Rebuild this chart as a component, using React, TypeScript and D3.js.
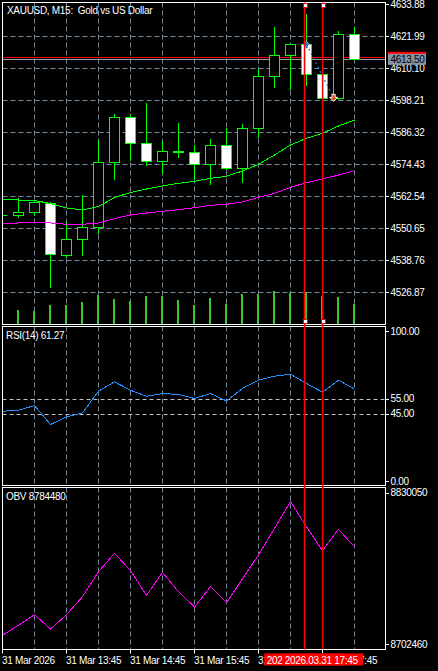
import React from "react";
import * as d3 from "d3";

// ---------- data ----------
const times = [
  "12:45", "13:00", "13:15", "13:30", "13:45", "14:00", "14:15", "14:30",
  "14:45", "15:00", "15:15", "15:30", "15:45", "16:00", "16:15", "16:30",
  "16:45", "17:00", "17:15", "17:30", "17:45", "18:00", "18:15",
];
const opens = [
  4555.4, 4555.37, 4556.48, 4560.05, 4540.51, 4546.45, 4550.91, 4575.06,
  4591.78, 4582.12, 4575.43, 4578.9, 4578.78, 4574.32, 4581.45, 4572.83,
  4587.69, 4607.02, 4614.82, 4618.91, 4607.76, 4598.77, 4622.62,
];
const highs = [
  4555.9, 4561.8, 4561.05, 4560.42, 4552.99, 4562.8, 4583.24, 4593.01,
  4593.01, 4596.98, 4582.86, 4589.55, 4581.38, 4583.61, 4587.69, 4589.18,
  4609.73, 4625.33, 4618.91, 4630.16, 4608.6, 4623.74, 4625.33,
];
const lows = [
  4555.0, 4554.63, 4555.37, 4528.84, 4539.76, 4540.51, 4548.9, 4568.75,
  4575.8, 4573.95, 4570.97, 4577.14, 4568.75, 4567.0, 4572.6, 4567.88,
  4584.57, 4603.15, 4602.41, 4603.78, 4598.5, 4598.5, 4613.5,
];
const closes = [
  4555.4, 4556.48, 4560.2, 4540.88, 4546.45, 4550.91, 4575.06, 4591.78,
  4582.12, 4575.43, 4579.15, 4579.2, 4574.32, 4581.45, 4572.83, 4587.69,
  4607.02, 4614.82, 4618.91, 4607.76, 4598.77, 4622.62, 4613.5,
];
const volumes = [
  1420, 1330, 1235, 1805, 1805, 2090, 2755, 2375, 2185, 2660, 2660, 2280,
  1805, 2470, 1930, 2850, 2850, 3135, 2975, 3040, 2660, 2565, 1930,
];
const maFast = [
  4561.31, 4561.05, 4560.87, 4559.75, 4558.08, 4557.34, 4558.64, 4561.98,
  4563.84, 4565.14, 4566.26, 4567.26, 4568.0, 4569.12, 4569.86, 4571.83,
  4574.32, 4577.77, 4581.49, 4583.98, 4585.84, 4588.55, 4590.78,
];
const maSlow = [
  4552.39, 4552.51, 4552.77, 4552.51, 4552.02, 4552.02, 4552.51, 4554.18,
  4555.48, 4556.22, 4556.86, 4557.45, 4558.19, 4559.09, 4559.46, 4560.31,
  4562.06, 4563.54, 4565.77, 4567.48, 4568.86, 4570.34, 4571.94,
];
const rsiValues = [
  46.5, 47.2, 50.3, 37.7, 42.7, 45.4, 59.9, 66.1, 60.5, 56.5, 58.3, 57.7,
  55.0, 58.3, 53.4, 61.7, 67.2, 69.9, 71.2, 65.0, 59.2, 67.2, 61.27,
];
const obvValues = [
  8710038, 8718454, 8727375, 8715340, 8727375, 8742524, 8763564, 8779049,
  8764405, 8743702, 8763059, 8746732, 8733855, 8750940, 8737474, 8757672,
  8777618, 8800089, 8822476, 8801436, 8781237, 8799247, 8784480,
];
const priceTicks = [
  4633.88, 4621.99, 4610.1, 4598.21, 4586.32, 4574.43, 4562.54, 4550.65,
  4538.76, 4526.87,
];
const rsiTicks = [100, 55, 45, 0];
const rsiLevels = [55, 45];
const obvTicks = [8830050, 8702460];
const timeLabelIdx = [0, 4, 8, 12, 16, 20];
const timeLabels = [
  "31 Mar 2026", "31 Mar 13:45", "31 Mar 14:45", "31 Mar 15:45",
  "31 Mar 16:45", "31 Mar 17:45",
];
const vlineIdx = [18.89, 20.02];
const vlineLabels = ["2026.03.31 17:30", "2026.03.31 17:45"];
const bidPrice = 4613.5;
const askPrice = 4614.08;
const dealIdx = [19, 20.7];
const dealPrices = [4618.9, 4599.2];
const dealTypes = ["buy", "sell"];

// ---------- layout ----------
const W = 438;
const H = 671;
const L = 2.5;
const R = 385.5;
const main = { top: 2.5, bottom: 324.5 };
const rsiP = { top: 326.5, bottom: 485.5 };
const obvP = { top: 487.5, bottom: 649.5 };
const FONT = "'Liberation Sans', Arial, sans-serif";
const LIME = "#00ff00";
const GRID = "#778899";

const cr = (v: number) => Math.round(v) + 0.5;

export default function App() {
  const x = d3.scaleLinear().domain([0, times.length - 1]).range([2, 354]);
  const y = d3.scaleLinear().domain([4526.87, 4633.88]).range([292, 4]);
  const vy = d3.scaleLinear().domain([0, d3.max(volumes) as number]).range([324, 291]);
  const ry = d3.scaleLinear().domain([0, 100]).range([481, 331]);
  const oy = d3.scaleLinear().domain([8702460, 8830050]).range([644.3, 492.7]);

  const lineFast = d3.line<number>().x((_, i) => x(i) + 0.5).y((d) => y(d));
  const lineRsi = d3.line<number>().x((_, i) => x(i) + 0.5).y((d) => ry(d));
  const lineObv = d3.line<number>().x((_, i) => x(i) + 0.5).y((d) => oy(d));

  const gridX = d3.range(2, times.length, 2).map((i) => cr(x(i)));

  const textStyle = { fontFamily: FONT, fontSize: 10, letterSpacing: -0.3, whiteSpace: "pre" } as const;

  const panelGrid = (top: number, bottom: number) =>
    gridX.map((gx) => (
      <line key={gx} x1={gx} x2={gx} y1={top} y2={bottom} stroke={GRID} strokeDasharray="5,3" />
    ));

  return (
    <>
      <style>{"body{margin:0;background:#000}"}</style>
      <svg width={W} height={H} style={{ display: "block", background: "#000" }}>
        <defs>
          <clipPath id="cMain"><rect x={3} y={3} width={382} height={321} /></clipPath>
          <clipPath id="cRsi"><rect x={3} y={327} width={382} height={158} /></clipPath>
          <clipPath id="cObv"><rect x={3} y={488} width={382} height={161} /></clipPath>
        </defs>

        {/* ---------- main panel ---------- */}
        <g clipPath="url(#cMain)">
          {panelGrid(main.top, main.bottom)}
          {priceTicks.slice(1).map((p) => (
            <line key={p} x1={L} x2={R} y1={cr(y(p))} y2={cr(y(p))} stroke={GRID} strokeDasharray="5,3" />
          ))}
          {/* volumes */}
          {volumes.map((v, i) => (
            <rect key={i} x={Math.round(x(i)) - 1} y={vy(v)} width={2} height={324 - vy(v)} fill="#32cd32" />
          ))}
          {/* bid / ask lines */}
          <line x1={L} x2={R} y1={cr(y(askPrice))} y2={cr(y(askPrice))} stroke="#ff0000" />
          <line x1={L} x2={R} y1={cr(y(bidPrice))} y2={cr(y(bidPrice))} stroke="#a0a0a0" />
          {/* candles */}
          {times.map((t, i) => {
            const cx = Math.round(x(i));
            const o = opens[i];
            const c = closes[i];
            const bull = c >= o;
            const yT = cr(y(Math.max(o, c)));
            const yB = cr(y(Math.min(o, c)));
            const hy = Math.round(y(highs[i]));
            const ly = Math.round(y(lows[i]));
            return (
              <g key={t}>
                <line x1={cx + 0.5} x2={cx + 0.5} y1={hy} y2={ly + 1} stroke={LIME} />
                {yB - yT < 1 ? (
                  <line x1={cx - 4.5} x2={cx + 5.5} y1={yT} y2={yT} stroke={LIME} />
                ) : (
                  <rect x={cx - 4.5} y={yT} width={10} height={yB - yT} fill={bull ? "#000" : "#fff"} stroke={LIME} />
                )}
              </g>
            );
          })}
          {/* moving averages */}
          <path d={lineFast(maFast) || ""} fill="none" stroke={LIME} shapeRendering="crispEdges" />
          <path d={lineFast(maSlow) || ""} fill="none" stroke="#ff00ff" shapeRendering="crispEdges" />
          {/* deals */}
          <line
            x1={x(dealIdx[0]) + 0.5}
            y1={y(dealPrices[0])}
            x2={x(dealIdx[1])}
            y2={y(dealPrices[1])}
            stroke="#1e6fd0"
            strokeWidth={1.3}
            strokeDasharray="2,3"
          />
          {dealTypes.map((tp, k) => {
            const ax = x(dealIdx[k]) + 0.5;
            const ay = y(dealPrices[k]);
            if (tp === "buy") {
              const pts = [
                [ax, ay - 3], [ax + 4, ay + 1], [ax + 1.5, ay + 1], [ax + 1.5, ay + 4],
                [ax - 1.5, ay + 4], [ax - 1.5, ay + 1], [ax - 4, ay + 1],
              ];
              return <polygon key={k} points={pts.map((p) => p.join(",")).join(" ")} fill="#1e6fd0" stroke="#ffffff" strokeWidth={0.6} />;
            }
            const pts = [
              [ax, ay + 4], [ax + 4, ay], [ax + 1.5, ay], [ax + 1.5, ay - 3],
              [ax - 1.5, ay - 3], [ax - 1.5, ay], [ax - 4, ay],
            ];
            return <polygon key={k} points={pts.map((p) => p.join(",")).join(" ")} fill="#e8401c" stroke="#ffffff" strokeWidth={1} />;
          })}
          <text x={7} y={13.5} fill="#fff" style={textStyle} xmlSpace="preserve">XAUUSD, M15:  Gold vs US Dollar</text>
        </g>
        <rect x={L} y={main.top} width={R - L} height={main.bottom - main.top} fill="none" stroke="#fff" />

        {/* price axis */}
        {priceTicks.map((p) => (
          <g key={p}>
            <line x1={R} x2={389} y1={cr(y(p))} y2={cr(y(p))} stroke="#fff" />
            <text x={390.5} y={y(p) + 3.7} fill="#fff" style={textStyle}>{p.toFixed(2)}</text>
          </g>
        ))}
        {/* ask / bid labels */}
        <rect x={388} y={y(askPrice) - 5.5} width={38} height={11} fill="#ff0000" />
        <rect x={388} y={y(bidPrice) - 5} width={38} height={11} fill="#8494a5" />
        <text x={390.5} y={y(bidPrice) + 4} fill="#000" style={textStyle}>{bidPrice.toFixed(2)}</text>

        {/* ---------- RSI panel ---------- */}
        <g clipPath="url(#cRsi)">
          {panelGrid(rsiP.top, rsiP.bottom)}
          {rsiLevels.map((lv) => (
            <line key={lv} x1={L} x2={R} y1={cr(ry(lv))} y2={cr(ry(lv))} stroke="#c0c0c0" strokeDasharray="4,3" />
          ))}
          <path d={lineRsi(rsiValues) || ""} fill="none" stroke="#1e90ff" shapeRendering="crispEdges" />
          <text x={6} y={339} fill="#fff" style={textStyle}>RSI(14) {rsiValues[rsiValues.length - 1].toFixed(2)}</text>
        </g>
        <rect x={L} y={rsiP.top} width={R - L} height={rsiP.bottom - rsiP.top} fill="none" stroke="#fff" />
        {rsiTicks.map((v) => (
          <g key={v}>
            <line x1={R} x2={389} y1={cr(ry(v))} y2={cr(ry(v))} stroke="#fff" />
            <text x={390.5} y={ry(v) + 3.7} fill="#fff" style={textStyle}>{v.toFixed(2)}</text>
          </g>
        ))}

        {/* ---------- OBV panel ---------- */}
        <g clipPath="url(#cObv)">
          {panelGrid(obvP.top, obvP.bottom)}
          <path d={lineObv(obvValues) || ""} fill="none" stroke="#ff00ff" shapeRendering="crispEdges" />
          <text x={6} y={500} fill="#fff" style={textStyle}>OBV {obvValues[obvValues.length - 1]}</text>
        </g>
        <rect x={L} y={obvP.top} width={R - L} height={obvP.bottom - obvP.top} fill="none" stroke="#fff" />
        {obvTicks.map((v) => (
          <g key={v}>
            <line x1={R} x2={389} y1={cr(oy(v))} y2={cr(oy(v))} stroke="#fff" />
            <text x={390.5} y={oy(v) + 3.7} fill="#fff" style={textStyle}>{v}</text>
          </g>
        ))}

        {/* ---------- vertical red lines ---------- */}
        {vlineIdx.map((vi) => {
          const vx = x(vi) + 0.3;
          return (
            <g key={vi}>
              <line x1={vx} x2={vx} y1={main.top} y2={obvP.bottom} stroke="#ff0000" strokeWidth={1.6} />
              <rect x={Math.round(vx) - 1.5} y={3.5} width={4} height={4} fill="#fff" stroke="#ff0000" />
              <rect x={Math.round(vx) - 1.5} y={319.5} width={4} height={4} fill="#fff" stroke="#ff0000" />
            </g>
          );
        })}

        {/* ---------- time axis ---------- */}
        {timeLabelIdx.map((ti, k) => {
          const tx = cr(x(ti));
          return (
            <g key={ti}>
              <line x1={tx} x2={tx} y1={obvP.bottom} y2={653.5} stroke="#fff" />
              <text x={tx - 0.5} y={663.5} fill="#fff" style={textStyle}>{timeLabels[k]}</text>
            </g>
          );
        })}
        {vlineIdx.map((vi, k) => {
          const vx = x(vi);
          return (
            <g key={"lab" + vi}>
              <rect x={vx - 40} y={653.5} width={81} height={12} fill="#ff0000" />
              <text x={vx - 37.5} y={663.5} fill="#fff" style={textStyle}>{vlineLabels[k]}</text>
            </g>
          );
        })}
      </svg>
    </>
  );
}
